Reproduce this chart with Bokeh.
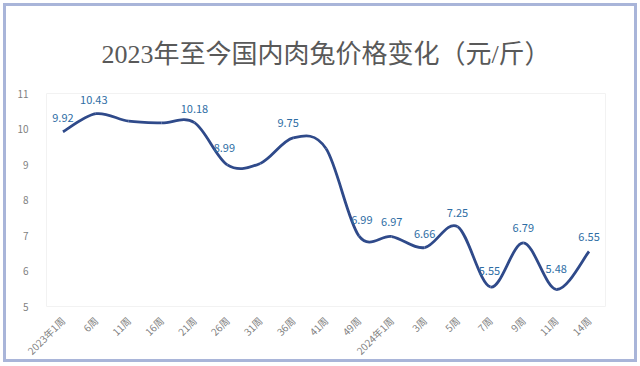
import math
from bokeh.plotting import figure
from bokeh.models import ColumnDataSource, FixedTicker, Range1d, Title
from bokeh.core.properties import value
from bokeh.embed import file_html
from bokeh.resources import INLINE

weeks = ["2023年1周", "6周", "11周", "16周", "21周", "26周", "31周", "36周", "41周",
         "49周", "2024年1周", "3周", "5周", "7周", "9周", "11周", "14周"]
prices = [9.92, 10.43, 10.22, 10.17, 10.18, 8.99, 9.03, 9.75, 9.45,
          6.99, 6.97, 6.66, 7.25, 5.55, 6.79, 5.48, 6.55]
labeled = [True, True, False, False, True, True, False, True, False,
           True, True, True, True, True, True, True, True]
label_dx = [0, -2, 0, 0, 0, -3, 0, -5, 0, 3, 0, 0, 0, -1, 0, 0, 0]
label_dy = [14, 14, 14, 14, 14, 17, 14, 15, 14, 16, 15, 14, 14, 16, 15, 20, 14]

CJK = "'Noto Sans CJK SC'"
p = figure(width=634, height=359, output_backend="svg", toolbar_location=None,
           x_range=Range1d(-0.5, len(weeks) - 0.5), y_range=Range1d(5, 11),
           min_border_left=40, min_border_right=35, min_border_top=87, min_border_bottom=54)
p.styles = {"border": "3px solid #a9b5d9", "box-sizing": "border-box",
            "margin-left": "3px", "margin-top": "3px"}

t = Title(text="2023年至今国内肉兔价格变化（元/斤）", align="center",
          text_font="'Liberation Serif', 'Noto Sans CJK SC'", text_font_size="26px",
          text_font_style="normal", text_color="#595959", standoff=49, offset=-4)
p.add_layout(t, "above")

p.outline_line_color = "#f2f2f2"
p.xgrid.visible = False
p.ygrid.visible = False

# smooth line via cubic bezier segments (Catmull-Rom style control points)
xs = list(range(len(prices)))
x0, y0, x1, y1, cx0, cy0, cx1, cy1 = [], [], [], [], [], [], [], []
for i in range(len(prices) - 1):
    pm = prices[i - 1] if i > 0 else prices[i]
    xm = xs[i - 1] if i > 0 else xs[i]
    pn = prices[i + 2] if i + 2 < len(prices) else prices[i + 1]
    xn = xs[i + 2] if i + 2 < len(prices) else xs[i + 1]
    x0.append(xs[i]); y0.append(prices[i])
    x1.append(xs[i + 1]); y1.append(prices[i + 1])
    cx0.append(xs[i] + (xs[i + 1] - xm) / 6); cy0.append(prices[i] + (prices[i + 1] - pm) / 6)
    cx1.append(xs[i + 1] - (xn - xs[i]) / 6); cy1.append(prices[i + 1] - (pn - prices[i]) / 6)
p.bezier(x0=x0, y0=y0, x1=x1, y1=y1, cx0=cx0, cy0=cy0, cx1=cx1, cy1=cy1,
         line_color="#2f4a8a", line_width=2.8)

lx = [x for x, l in zip(xs, labeled) if l]
ly = [y for y, l in zip(prices, labeled) if l]
lt = [f"{y:.2f}" for y, l in zip(prices, labeled) if l]
ldx = [d for d, l in zip(label_dx, labeled) if l]
ldy = [-d for d, l in zip(label_dy, labeled) if l]
src = ColumnDataSource(dict(x=lx, y=ly, t=lt, dx=ldx, dy=ldy))
p.text(x="x", y="y", text="t", x_offset="dx", y_offset="dy", source=src,
       text_font=value(CJK), text_font_size="11px", text_color="#2e6da4",
       text_align="center", text_baseline="middle")

p.yaxis.ticker = FixedTicker(ticks=[5, 6, 7, 8, 9, 10, 11])
p.yaxis.axis_line_color = None
p.yaxis.major_tick_line_color = None
p.yaxis.minor_tick_line_color = None
p.yaxis.major_label_text_color = "#7f7f7f"
p.yaxis.major_label_text_font = CJK
p.yaxis.major_label_text_font_size = "10px"
p.yaxis.major_label_standoff = 12

p.xaxis.ticker = FixedTicker(ticks=xs)
p.xaxis.major_label_overrides = {i: w for i, w in enumerate(weeks)}
p.xaxis.major_label_orientation = math.pi / 4
p.xaxis.axis_line_color = None
p.xaxis.major_tick_line_color = None
p.xaxis.minor_tick_line_color = None
p.xaxis.major_label_text_color = "#7f7f7f"
p.xaxis.major_label_text_font = CJK
p.xaxis.major_label_text_font_size = "10px"
p.xaxis.major_label_standoff = 6

open("out.html", "w").write(file_html(p, INLINE))
